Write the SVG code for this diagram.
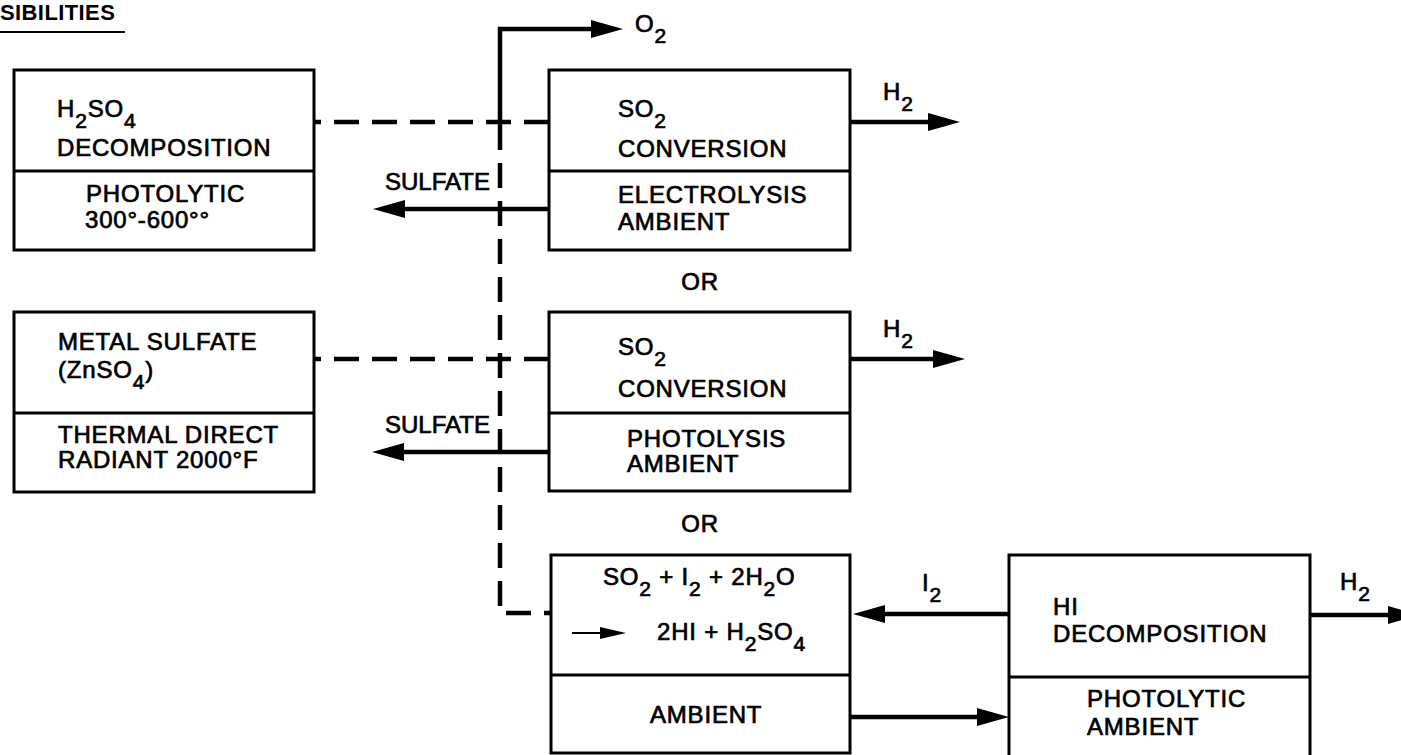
<svg xmlns="http://www.w3.org/2000/svg" width="1401" height="755" viewBox="0 0 1401 755">
<style>
.t{font-family:"Liberation Sans",Arial,sans-serif;font-size:24px;letter-spacing:0.8px;fill:#000;stroke:#000;stroke-width:0.7}
.s{font-size:21px}
.nl{letter-spacing:0}
.box{fill:#fff;stroke:#000;stroke-width:3}
.div{stroke:#000;stroke-width:3}
.ln{fill:none;stroke:#000;stroke-width:4.5}
.dash{fill:none;stroke:#000;stroke-width:4.5;stroke-dasharray:25 13}
.thin{fill:none;stroke:#000;stroke-width:2}
</style>
<defs>
<marker id="ah" markerUnits="userSpaceOnUse" markerWidth="32" markerHeight="18" refX="0" refY="9" orient="auto" overflow="visible">
<path d="M0,0 L32,9 L0,18 Z" fill="#000"/>
</marker>
<marker id="ahs" markerUnits="userSpaceOnUse" markerWidth="26" markerHeight="12" refX="0" refY="6" orient="auto" overflow="visible">
<path d="M0,0 L26,6 L0,12 Z" fill="#000"/>
</marker>
</defs>
<rect width="1401" height="755" fill="#fff"/>

<g id="title">
<text x="0" y="20" font-family="Liberation Sans, Arial, sans-serif" font-size="22" font-weight="bold" letter-spacing="0.4">SIBILITIES</text>
<line x1="0" y1="32" x2="125" y2="32" stroke="#000" stroke-width="2"/>
</g>

<g id="connectors">
<path class="dash" d="M549,122 H314"/>
<path class="dash" d="M549,359 H314"/>
<path class="ln" d="M500,150 V29 H591" marker-end="url(#ah)"/>
<path class="dash" d="M500,163 V613 H551"/>
<path class="ln" d="M549,209 H405" marker-end="url(#ah)"/>
<path class="ln" d="M549,452 H404" marker-end="url(#ah)"/>
<path class="ln" d="M850,122 H928" marker-end="url(#ah)"/>
<path class="ln" d="M850,359 H933" marker-end="url(#ah)"/>
<path class="ln" d="M1310,615 H1388" marker-end="url(#ah)"/>
<path class="ln" d="M1009,614 H885" marker-end="url(#ah)"/>
<path class="ln" d="M850,717 H977" marker-end="url(#ah)"/>
</g>

<g id="labels">
<text class="t" x="635" y="32">O<tspan class="s" dy="11">2</tspan></text>
<text class="t" x="883" y="100">H<tspan class="s" dy="11">2</tspan></text>
<text class="t" x="883" y="337">H<tspan class="s" dy="11">2</tspan></text>
<text class="t" x="1340" y="590">H<tspan class="s" dy="11">2</tspan></text>
<text class="t" x="922" y="591">I<tspan class="s" dy="11">2</tspan></text>
<text class="t nl" x="385" y="190">SULFATE</text>
<text class="t nl" x="385" y="433">SULFATE</text>
<text class="t" x="700" y="290" text-anchor="middle">OR</text>
<text class="t" x="700" y="532" text-anchor="middle">OR</text>
</g>

<g id="h2so4-decomposition">
<rect class="box" x="14" y="70" width="300" height="180"/>
<line class="div" x1="14" y1="171" x2="314" y2="171"/>
<text class="t" x="57" y="117">H<tspan class="s" dy="11">2</tspan><tspan dy="-11">SO</tspan><tspan class="s" dy="11">4</tspan></text>
<text class="t" x="57" y="156">DECOMPOSITION</text>
<text class="t" x="86" y="202">PHOTOLYTIC</text>
<text class="t" x="85" y="228">300°-600°°</text>
</g>

<g id="metal-sulfate">
<rect class="box" x="14" y="312" width="300" height="180"/>
<line class="div" x1="14" y1="413" x2="314" y2="413"/>
<text class="t" x="58" y="350">METAL SULFATE</text>
<text class="t" x="58" y="378">(ZnSO<tspan class="s" dy="11">4</tspan><tspan dy="-11">)</tspan></text>
<text class="t" x="58" y="443">THERMAL DIRECT</text>
<text class="t" x="58" y="468">RADIANT 2000°F</text>
</g>

<g id="so2-electrolysis">
<rect class="box" x="549" y="70" width="301" height="180"/>
<line class="div" x1="549" y1="171" x2="850" y2="171"/>
<text class="t" x="618" y="117">SO<tspan class="s" dy="11">2</tspan></text>
<text class="t" x="618" y="157">CONVERSION</text>
<text class="t" x="618" y="203">ELECTROLYSIS</text>
<text class="t" x="618" y="230">AMBIENT</text>
</g>

<g id="so2-photolysis">
<rect class="box" x="549" y="312" width="301" height="179"/>
<line class="div" x1="549" y1="413" x2="850" y2="413"/>
<text class="t" x="618" y="355">SO<tspan class="s" dy="11">2</tspan></text>
<text class="t" x="618" y="397">CONVERSION</text>
<text class="t" x="627" y="447">PHOTOLYSIS</text>
<text class="t" x="627" y="472">AMBIENT</text>
</g>

<g id="bunsen-reaction">
<rect class="box" x="551" y="555" width="299" height="198"/>
<line class="div" x1="551" y1="675" x2="850" y2="675"/>
<text class="t" x="603" y="585">SO<tspan class="s" dy="11">2</tspan><tspan dy="-11"> + I</tspan><tspan class="s" dy="11">2</tspan><tspan dy="-11"> + 2H</tspan><tspan class="s" dy="11">2</tspan><tspan dy="-11">O</tspan></text>
<path class="thin" d="M572,633 H600" marker-end="url(#ahs)"/>
<text class="t" x="657" y="640">2HI + H<tspan class="s" dy="11">2</tspan><tspan dy="-11">SO</tspan><tspan class="s" dy="11">4</tspan></text>
<text class="t" x="650" y="723">AMBIENT</text>
</g>

<g id="hi-decomposition">
<rect class="box" x="1009" y="555" width="301" height="210"/>
<line class="div" x1="1009" y1="677" x2="1310" y2="677"/>
<text class="t" x="1053" y="615">HI</text>
<text class="t" x="1053" y="642">DECOMPOSITION</text>
<text class="t" x="1087" y="707">PHOTOLYTIC</text>
<text class="t" x="1087" y="735">AMBIENT</text>
</g>
</svg>
